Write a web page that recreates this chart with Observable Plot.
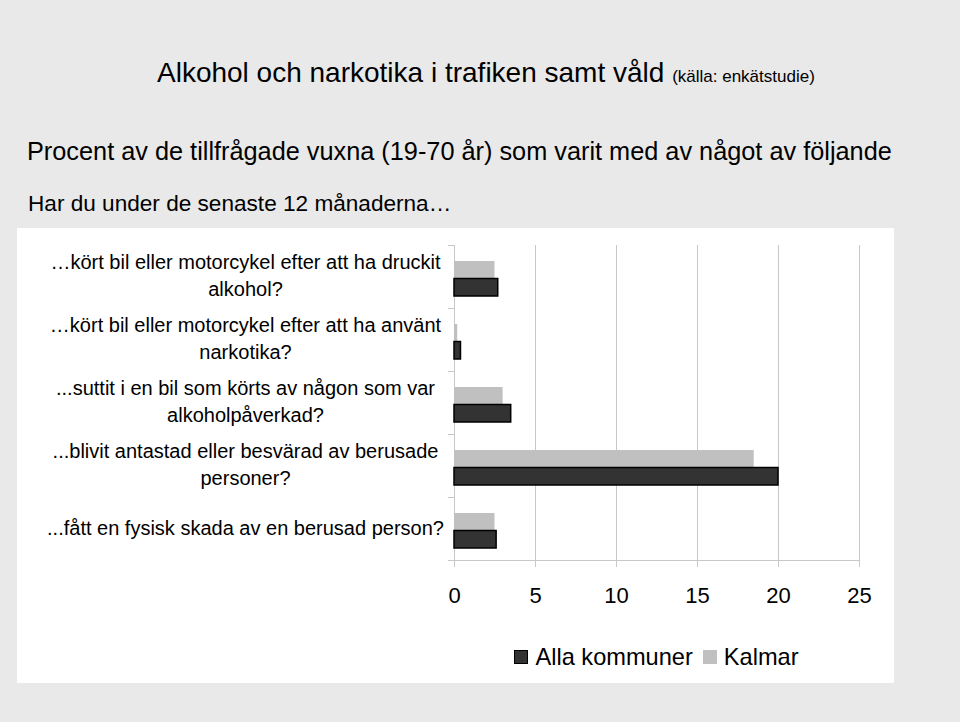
<!DOCTYPE html>
<html>
<head>
<meta charset="utf-8">
<script src="https://cdn.jsdelivr.net/npm/d3@7"></script>
<script src="https://cdn.jsdelivr.net/npm/@observablehq/plot@0.6"></script>
<style>
  html, body { margin: 0; padding: 0; }
  body { width: 960px; height: 722px; background: #e9e9e9; position: relative; overflow: hidden;
         font-family: "Liberation Sans", Arial, Helvetica, sans-serif; color: #000; }
  .t { position: absolute; white-space: nowrap; line-height: 1; }
  #title { left: 157px; top: 59px; font-size: 28px; }
  #title span { font-size: 17px; }
  #sub { left: 27px; top: 139px; font-size: 25.3px; }
  #q { left: 28px; top: 193px; font-size: 22.6px; }
  #panel { position: absolute; left: 17px; top: 228px; width: 877px; height: 455px; background: #fff; }
  #legend { position: absolute; left: 437px; width: 405px; top: 417px; display: flex; justify-content: center;
            align-items: center; font-size: 23.6px; line-height: 24px; }
  #legend .sw { width: 14px; height: 14px; box-sizing: border-box; margin-right: 7px; }
  #legend .item { display: flex; align-items: center; margin: 0 5px; }
</style>
</head>
<body>
<div class="t" id="title">Alkohol och narkotika i trafiken samt våld <span>(källa: enkätstudie)</span></div>
<div class="t" id="sub">Procent av de tillfrågade vuxna (19-70 år) som varit med av något av följande</div>
<div class="t" id="q">Har du under de senaste 12 månaderna…</div>
<div id="panel"><div id="chart"></div><div id="legend"></div></div>
<script>
const categories = [
  "…kört bil eller motorcykel efter att ha druckit\nalkohol?",
  "…kört bil eller motorcykel efter att ha använt\nnarkotika?",
  "...suttit i en bil som körts av någon som var\nalkoholpåverkad?",
  "...blivit antastad eller besvärad av berusade\npersoner?",
  "...fått en fysisk skada av en berusad person?"
];
const allaKommuner = [2.7, 0.4, 3.5, 20.0, 2.6];
const kalmar = [2.5, 0.2, 3.0, 18.5, 2.5];
const xTicks = [0, 5, 10, 15, 20, 25];
const seriesNames = ["Alla kommuner", "Kalmar"];
const seriesColors = ["#333333", "#c0c0c0"];

const rows = categories.map((c, i) => ({cat: c, alla: allaKommuner[i], kalmar: kalmar[i]}));
const lineColor = "#c8c8c8";
const last = categories[categories.length - 1];

const chart = Plot.plot({
  width: 877,
  height: 400,
  marginLeft: 437,
  marginRight: 35,
  marginTop: 17,
  marginBottom: 68,
  style: {background: "transparent", fontFamily: '"Liberation Sans", Arial, sans-serif', color: "#000", overflow: "visible"},
  x: {domain: [0, 25], ticks: xTicks, label: null},
  y: {domain: categories, padding: 0, label: null},
  marks: [
    Plot.gridX(xTicks.filter(d => d > 0), {stroke: lineColor, strokeOpacity: 1}),
    Plot.ruleX([0], {stroke: lineColor, strokeOpacity: 1, insetBottom: -7}),
    Plot.ruleY([last], {stroke: lineColor, dy: 31.5, insetLeft: -1}),
    Plot.ruleY(categories, {x1: 0, x2: 0, insetLeft: -6, stroke: lineColor, dy: -31.5}),
    Plot.ruleY([last], {x1: 0, x2: 0, insetLeft: -6, stroke: lineColor, dy: 31.5}),
    Plot.axisX(xTicks, {tickSize: 7, tickPadding: 20, fontSize: 22, stroke: lineColor, strokeOpacity: 1, fill: "#000", label: null}),
    Plot.axisY({tickSize: 0, tickPadding: 209, dy: -3, textAnchor: "middle", fontSize: 20, lineHeight: 1.37, fill: "#000", label: null, tickFormat: d => d}),
    Plot.barX(rows, {y: "cat", x: "kalmar", fill: seriesColors[1], insetTop: 16, insetBottom: 30}),
    Plot.barX(rows, {y: "cat", x: "alla", fill: seriesColors[0], stroke: "#000", strokeWidth: 1.5, insetTop: 33.5, insetBottom: 12})
  ]
});
document.getElementById("chart").appendChild(chart);

const legend = document.getElementById("legend");
seriesNames.forEach((name, i) => {
  const item = document.createElement("div");
  item.className = "item";
  const sw = document.createElement("div");
  sw.className = "sw";
  sw.style.background = seriesColors[i];
  if (i === 0) sw.style.border = "1px solid #000";
  item.appendChild(sw);
  const label = document.createElement("span");
  label.textContent = name;
  item.appendChild(label);
  legend.appendChild(item);
});
</script>
</body>
</html>
